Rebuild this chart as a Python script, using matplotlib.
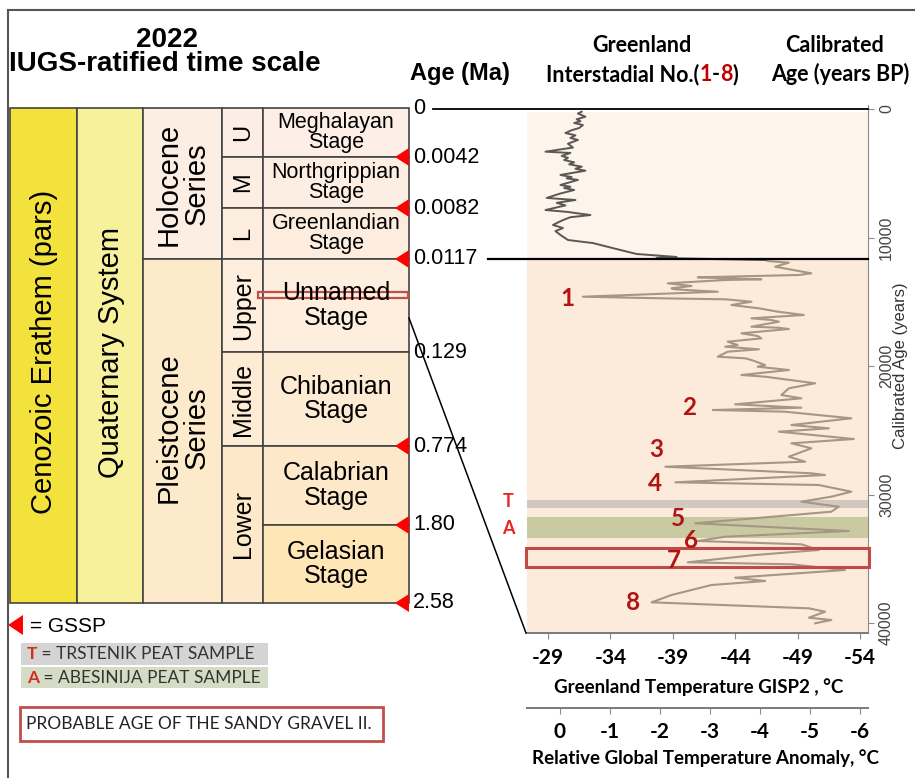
import matplotlib
matplotlib.use("Agg")
import matplotlib.pyplot as plt
from matplotlib.patches import Rectangle, Polygon

plt.rcParams.update({
    "font.family": ["Liberation Sans", "DejaVu Sans"],
    "axes.unicode_minus": False,
})

W, H = 915, 778
CAL = ["Lato", "DejaVu Sans"]

# --- GISP2 temperature trace (deg C) vs calibrated age (years BP)
holo_temp = [-31.7, -31.4, -32.0, -31.3, -31.6, -31.1, -31.8, -31.5, -30.9, -30.4,
             -31.2, -30.8, -31.4, -30.6, -31.0, -28.8, -30.8, -30.1, -30.6, -30.3,
             -31.1, -30.7, -31.7, -31.2, -32.0, -30.0, -30.9, -30.5, -31.4, -30.0,
             -30.8, -30.3, -31.1, -29.9, -28.9, -31.2, -29.7, -30.4, -28.8, -30.5,
             -32.4, -30.8, -30.2, -29.4, -30.2, -29.6, -30.0, -30.6, -31.5, -32.6,
             -34.8, -36.1, -39.3, -37.7, -46.5]
holo_age = [210, 350, 600, 800, 950, 1090, 1250, 1480, 1650, 1870,
            2050, 2250, 2410, 2700, 3000, 3320, 3420, 3650, 3800, 3970,
            4150, 4300, 4490, 4650, 4800, 5130, 5300, 5400, 5520, 5910,
            6050, 6150, 6300, 6600, 6920, 7080, 7300, 7500, 7860, 8000,
            8250, 8420, 8640, 9020, 9260, 9500, 9800, 10190, 10300, 10430,
            10970, 11280, 11510, 11590, 11750]

glac_temp = [-46.6, -48.3, -47.2, -50.1, -49.1, -41.0, -43.2, -46.1, -43.2, -38.6,
             -40.5, -38.9, -39.2, -42.6, -31.8, -38.1, -43.2, -45.3, -43.7, -45.9,
             -47.4, -49.5, -45.3, -46.9, -47.5, -45.3, -47.4, -48.3, -44.5, -45.8,
             -46.1, -43.4, -44.2, -43.2, -45.9, -43.4, -42.6, -44.8, -45.3, -46.4,
             -45.8, -48.3, -44.5, -46.4, -50.4, -48.3, -47.7, -49.3, -44.0, -49.3,
             -42.2, -48.0, -53.3, -48.5, -51.5, -47.5, -53.5, -48.5, -50.1, -48.3,
             -49.6, -38.4, -50.1, -51.2, -39.2, -50.7, -53.3, -51.7, -49.3, -52.3,
             -51.7, -40.8, -53.1, -43.2, -41.0, -49.3, -50.7, -45.6, -40.2, -48.5,
             -52.8, -44.0, -46.4, -42.1, -38.9, -37.3, -49.9, -51.2, -49.9, -51.7,
             -50.4]
glac_age = [11826, 11958, 12269, 12783, 12915, 13094, 13173, 13249, 13304, 13561,
            13771, 13950, 14030, 14214, 14603, 14730, 14805, 14992, 15249, 15506,
            15766, 16027, 16284, 16416, 16548, 16937, 17015, 17116, 17451, 17661,
            17840, 18104, 18361, 18493, 18695, 18882, 19271, 19396, 19528, 19917,
            20049, 20306, 20695, 20827, 21341, 21730, 22251, 22508, 22974, 23239,
            23418, 23550, 24064, 24585, 24842, 25106, 25674, 26009, 26398, 27051,
            27440, 27829, 28343, 28475, 29043, 29253, 29774, 30163, 30552, 30941,
            31330, 32233, 32832, 33275, 33610, 33866, 34310, 34699, 35267, 35422,
            35866, 36465, 36722, 37033, 37811, 38379, 38846, 39110, 39577, 39756,
            40013]

trstenik_age = (30430, 31050)
abesinija_age = (31750, 33385)
gravel_age = (34160, 35640)

age_ticks = [0, 10000, 20000, 30000, 40000]
gisp_ticks = [-29, -34, -39, -44, -49, -54]
anom_ticks = [0, -1, -2, -3, -4, -5, -6]
interstadials = ["1", "2", "3", "4", "5", "6", "7", "8"]

# --- time-scale table
stage_names = ["Meghalayan\nStage", "Northgrippian\nStage", "Greenlandian\nStage",
               "Unnamed\nStage", "Chibanian\nStage", "Calabrian\nStage", "Gelasian\nStage"]
subseries = ["U", "M", "L", "Upper", "Middle", "Lower"]
boundary_ages = ["0", "0.0042", "0.0082", "0.0117", "0.129", "0.774", "1.80", "2.58"]
gssp = [False, True, True, True, False, True, True, True]

fig = plt.figure(figsize=(W / 100, H / 100), dpi=100)


def px_axes(x0, y0, w, h, **kw):
    return fig.add_axes([x0 / W, 1 - (y0 + h) / H, w / W, h / H], **kw)


# ---------------- right hand GISP2 panel
ax = px_axes(527, 105, 341, 528)
ax.set_facecolor("none")
ax.set_xlim(-27.32, -54.64)
ax.set_ylim(40767, -311)
ax.axhspan(230, 11700, color="#FDF4EC", lw=0, zorder=0)
ax.axhspan(11700, 40767, color="#FCEBDA", lw=0, zorder=0)
ax.axhspan(*trstenik_age, color="#D3C8C0", lw=0, zorder=1)
ax.axhspan(*abesinija_age, color="#C9CAA2", lw=0, zorder=1)
ax.plot(holo_temp, holo_age, color="#5A5755", lw=1.4, zorder=2)
ax.plot(glac_temp, glac_age, color="#A59784", lw=1.5, zorder=2)
ax.add_patch(Rectangle((-0.003, gravel_age[0]), 1.006, gravel_age[1] - gravel_age[0],
                       transform=ax.get_yaxis_transform(), fill=False,
                       ec="#BF4A48", lw=2.2, clip_on=False, zorder=4))

for s in ["top", "left"]:
    ax.spines[s].set_visible(False)
ax.spines["right"].set_color("#8A8A8A")
ax.spines["bottom"].set_color("#7A7A7A")
ax.spines["bottom"].set_linewidth(1.4)
ax.yaxis.tick_right()
ax.set_yticks(age_ticks)
ax.set_yticklabels([str(t) for t in age_ticks], rotation=90, va="center",
                   fontsize=11.5, color="#444444")
ax.tick_params(axis="y", length=4, color="#8A8A8A", pad=4)
ax.set_xticks(gisp_ticks)
ax.set_xticklabels([str(t) for t in gisp_ticks], family=CAL, fontweight="bold", fontsize=15)
ax.tick_params(axis="x", length=4, color="#8A8A8A", pad=7)

ax2 = px_axes(527, 707, 341, 1)
ax2.patch.set_visible(False)
ax2.set_xlim(0.66, -6.16)
ax2.set_yticks([])
for s in ["top", "left", "right"]:
    ax2.spines[s].set_visible(False)
ax2.spines["bottom"].set_color("#7A7A7A")
ax2.spines["bottom"].set_linewidth(1.4)
ax2.set_xticks(anom_ticks)
ax2.set_xticklabels([str(t) for t in anom_ticks], family=CAL, fontweight="bold", fontsize=15)
ax2.tick_params(axis="x", length=4, color="#8A8A8A", pad=6)

# ---------------- overlay in pixel coordinates
ov = fig.add_axes([0, 0, 1, 1], zorder=10)
ov.set_xlim(0, W)
ov.set_ylim(H, 0)
ov.axis("off")
rend = fig.canvas.get_renderer()


def seq_text(x, y, parts, center=False, **kw):
    texts = []
    for s, c, w in parts:
        texts.append(ov.text(x, y, s, color=c, fontweight=w, **kw))
    widths = [t.get_window_extent(renderer=rend).width for t in texts]
    if center:
        x -= sum(widths) / 2
    for t, w in zip(texts, widths):
        t.set_x(x)
        x += w


# frame
ov.plot([8, 915], [10, 10], color="#555555", lw=1.5)
ov.plot([8, 8], [10, 778], color="#555555", lw=1.5)

# headers
ov.text(167, 47, "2022", fontsize=20, fontweight="bold", ha="center", va="baseline")
ov.text(165, 71, "IUGS-ratified time scale", fontsize=20, fontweight="bold",
        ha="center", va="baseline")
ov.text(460, 80, "Age (Ma)", fontsize=17, fontweight="bold", ha="center", va="baseline")
ov.text(642, 52, "Greenland", family=CAL, fontsize=15.5, fontweight="bold",
        ha="center", va="baseline")
seq_text(642, 81, [("Interstadial No.(", "black", "bold"), ("1", "#C00000", "bold"),
                   ("-", "black", "bold"), ("8", "#C00000", "bold"), (")", "black", "bold")],
         center=True, family=CAL, fontsize=15.5, va="baseline")
ov.text(834, 52, "Calibrated", family=CAL, fontsize=15.5, fontweight="bold",
        ha="center", va="baseline")
ov.text(840, 81, "Age (years BP)", family=CAL, fontsize=15.5, fontweight="bold",
        ha="center", va="baseline")

# table
cols = [10, 77, 143, 222, 263, 409]
rows = [108, 157, 208, 259, 352, 446, 525, 603]
edge = "#444444"


def cell(x0, x1, y0, y1, fc):
    ov.add_patch(Rectangle((x0, y0), x1 - x0, y1 - y0, fc=fc, ec=edge, lw=1.2))


cell(cols[0], cols[1], rows[0], rows[-1], "#F4E23C")
cell(cols[1], cols[2], rows[0], rows[-1], "#F8F19C")
cell(cols[2], cols[3], rows[0], rows[3], "#FDEEE3")
cell(cols[2], cols[3], rows[3], rows[-1], "#FDEACB")
sub_rows = [(0, 1), (1, 2), (2, 3), (3, 4), (4, 5), (5, 7)]
sub_fc = ["#FDEEE5", "#FDEEE3", "#FDEDDF", "#FDEEDD", "#FDEBD3", "#FDE9C9"]
for (i0, i1), fc, name in zip(sub_rows, sub_fc, subseries):
    cell(cols[3], cols[4], rows[i0], rows[i1], fc)
    ov.text((cols[3] + cols[4]) / 2 + 1, (rows[i0] + rows[i1]) / 2, name,
            fontsize=17 if len(name) == 1 else 18, rotation=90, ha="center", va="center")
stage_fc = ["#FDEFE6", "#FDEEE3", "#FDEDDF", "#FDEEDD", "#FDEBD3", "#FDE9C9", "#FEE6B6"]
for i, (name, fc) in enumerate(zip(stage_names, stage_fc)):
    cell(cols[4], cols[5], rows[i], rows[i + 1], fc)
    ov.text((cols[4] + cols[5]) / 2, (rows[i] + rows[i + 1]) / 2, name,
            fontsize=15.5 if i < 3 else 18, ha="center", va="center",
            linespacing=0.95 if i < 3 else 1.05)

ov.text(44, 352, "Cenozoic Erathem (pars)", fontsize=21, rotation=90, ha="center", va="center")
ov.text(111, 352, "Quaternary System", fontsize=21, rotation=90, ha="center", va="center")
ov.text(183, 184, "Holocene\nSeries", fontsize=21, rotation=90, ha="center", va="center",
        linespacing=1.0)
ov.text(183, 428, "Pleistocene\nSeries", fontsize=21, rotation=90, ha="center", va="center",
        linespacing=1.0)

ov.add_patch(Rectangle((258, 292), 150, 6, fill=False, ec="#C0504D", lw=1.6))

for y, lab, g in zip(rows, boundary_ages, gssp):
    if g:
        ov.add_patch(Polygon([(395, y), (409, y - 9), (409, y + 9)], closed=True,
                             fc="#FF0000", ec="none"))
    ov.text(413, y, lab, fontsize=15.5, ha="left", va="center")

# connecting lines
ov.plot([433, 868], [109, 109], color="black", lw=1.3)
ov.plot([488, 868], [259, 259], color="black", lw=1.6)
ov.plot([409, 526], [318, 633], color="black", lw=1.1)

# interstadial numbers and sample letters
num_pos = [(567, 298), (689, 407), (656, 449), (655, 483),
           (678, 518), (691, 540), (674, 560), (633, 603)]
for lab, (x, y) in zip(interstadials, num_pos):
    ov.text(x, y, lab, family=CAL, fontsize=17.5, fontweight="bold", color="#B01414",
            ha="center", va="center")
ov.text(508, 501, "T", family=CAL, fontsize=13, fontweight="bold", color="#E8251F",
        ha="center", va="center")
ov.text(508, 529, "A", family=CAL, fontsize=13, fontweight="bold", color="#E8251F",
        ha="center", va="center")

# axis labels
ov.text(699, 687, "Greenland Temperature GISP2 , \u00b0C", family=CAL, fontsize=13.5,
        fontweight="bold", ha="center", va="center")
ov.text(706, 758, "Relative Global Temperature Anomaly, \u00b0C", family=CAL, fontsize=13.5,
        fontweight="bold", ha="center", va="center")
ov.text(900, 366, "Calibrated Age (years)", fontsize=12, rotation=90, color="#333333",
        ha="center", va="center")

# legend
ov.add_patch(Polygon([(8, 625), (23, 615), (23, 635)], closed=True, fc="#FF0000", ec="none"))
ov.text(30, 626, "= GSSP", fontsize=15, ha="left", va="center")
ov.add_patch(Rectangle((21, 643), 247, 22, fc="#D4D4D4", ec="none"))
seq_text(27, 654, [("T", "#D03020", "bold"), (" = TRSTENIK PEAT SAMPLE", "#333333", "normal")],
         family=CAL, fontsize=12.5, va="center")
ov.add_patch(Rectangle((21, 667), 247, 21, fc="#D5DCC6", ec="none"))
seq_text(27, 678, [("A", "#D03020", "bold"), (" = ABESINIJA PEAT SAMPLE", "#333333", "normal")],
         family=CAL, fontsize=12.5, va="center")
ov.add_patch(Rectangle((20, 707), 363, 34, fill=False, ec="#BF4F4C", lw=2))
ov.text(26, 724, "PROBABLE AGE OF THE SANDY GRAVEL II.", family=CAL, fontsize=12.5,
        color="#222222", ha="left", va="center")

fig.savefig("out.png", dpi=100)
